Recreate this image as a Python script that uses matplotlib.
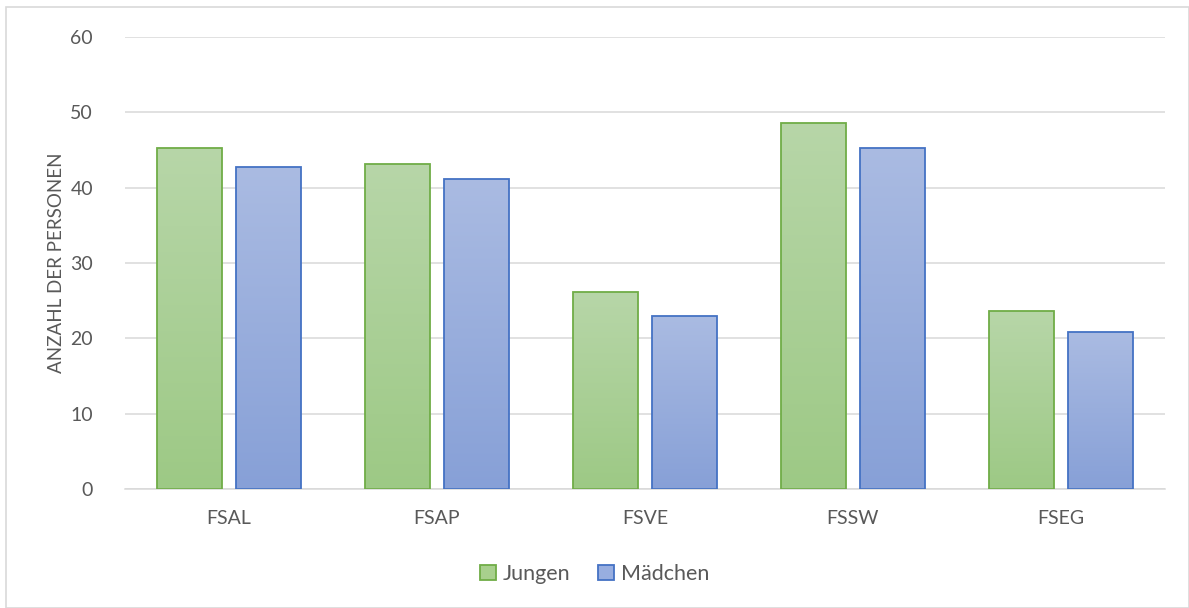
import numpy as np
import matplotlib.pyplot as plt
from matplotlib.patches import Rectangle

categories = ['FSAL', 'FSAP', 'FSVE', 'FSSW', 'FSEG']
jungen = [45.3, 43.1, 26.1, 48.6, 23.6]
maedchen = [42.7, 41.2, 23.0, 45.3, 20.8]
yticks = [0, 10, 20, 30, 40, 50, 60]

plt.rcParams['font.family'] = ['Lato', 'DejaVu Sans']
txt = '#595959'

fig = plt.figure(figsize=(11.89, 6.08), dpi=100)
ax = fig.add_axes([125 / 1189, 1 - 489 / 608, 1040 / 1189, 452 / 608])

# light frame round the whole chart
fig.patches.append(Rectangle((6 / 1189, 0), 1 - 6 / 1189, 1 - 7 / 608,
                             transform=fig.transFigure, fill=False,
                             edgecolor='#d9d9d9', linewidth=1.2))

x = np.arange(len(categories))
w = 0.3125
off = 0.192


def grad_bars(pos, vals, top, bottom, edge, label):
    bars = ax.bar(pos, vals, w, color='none', edgecolor=edge, linewidth=1.3,
                  label=label, zorder=3)
    cmap = np.linspace(0, 1, 256)[:, None]
    c0 = np.array(plt.matplotlib.colors.to_rgb(top))
    c1 = np.array(plt.matplotlib.colors.to_rgb(bottom))
    img = c0 + (c1 - c0) * cmap[:, :, None]
    for b in bars:
        x0, y0 = b.get_x(), b.get_y()
        im = ax.imshow(img, extent=[x0, x0 + b.get_width(), y0, y0 + b.get_height()],
                       aspect='auto', origin='upper', zorder=2)
        im.set_clip_path(b)
    return bars


grad_bars(x - off, jungen, '#b7d6a8', '#9dc985', '#70ad47', 'Jungen')
grad_bars(x + off, maedchen, '#aabbe2', '#87a0d7', '#4472c4', 'Mädchen')

ax.set_xlim(-0.5, len(categories) - 0.5)
ax.set_ylim(0, 60)
ax.set_yticks(yticks)
ax.set_xticks(x)
ax.set_xticklabels(categories)
ax.grid(axis='y', color='#d9d9d9', linewidth=1.1, zorder=0)
ax.set_axisbelow(True)
for s in ['top', 'right', 'left']:
    ax.spines[s].set_visible(False)
ax.spines['bottom'].set_color('#d9d9d9')
ax.spines['bottom'].set_linewidth(1.1)
ax.tick_params(length=0, colors=txt, labelsize=14)
ax.tick_params(axis='y', pad=23)
ax.tick_params(axis='x', pad=15)
ax.set_ylabel('ANZAHL DER PERSONEN', color=txt, fontsize=13.5, labelpad=4)

h, l = ax.get_legend_handles_labels()
fig.legend(h, l, loc='center', bbox_to_anchor=(0.5, 1 - 574 / 608), ncol=2,
           frameon=False, fontsize=15.5, labelcolor=txt, handlelength=0.75,
           handleheight=0.75, handletextpad=0.3, columnspacing=1.3)
for p, c in zip(fig.legends[0].get_patches(), ['#a8d08d', '#98aee0']):
    p.set_facecolor(c)

fig.savefig('out.png', dpi=100)
